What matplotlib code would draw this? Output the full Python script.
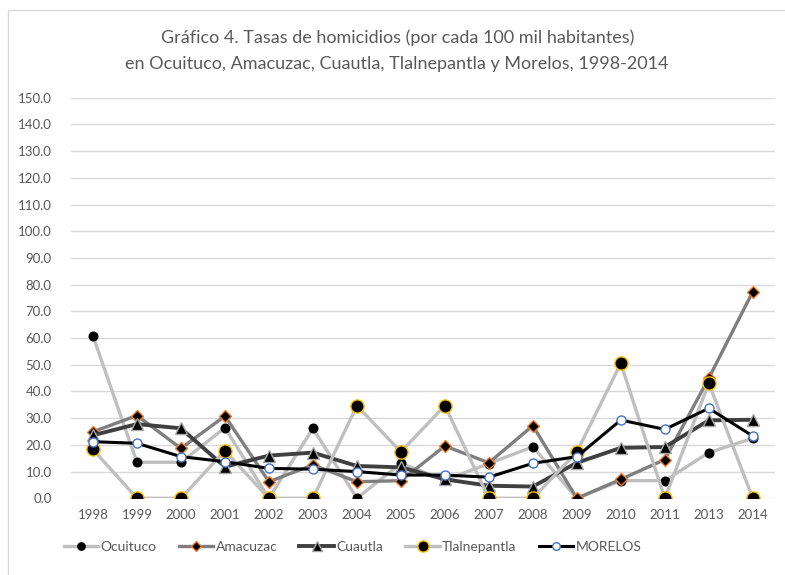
import matplotlib.pyplot as plt
from matplotlib.patches import Rectangle

# datos
years = ['1998', '1999', '2000', '2001', '2002', '2003', '2004', '2005',
         '2006', '2007', '2008', '2009', '2010', '2011', '2013', '2014']
ocuituco = [60.8, 13.5, 13.5, 26.4, 0.0, 26.2, 0.0, 13.1,
            6.8, 13.0, 19.3, 0.0, 6.6, 6.6, 17.1, 22.5]
amacuzac = [24.9, 31.0, 18.7, 30.8, 6.2, 12.5, 6.2, 6.6,
            19.6, 13.3, 27.2, 0.0, 7.1, 14.5, 45.0, 77.4]
cuautla = [23.6, 27.8, 26.2, 11.8, 16.0, 17.1, 12.1, 11.6,
           7.1, 4.7, 4.4, 13.3, 18.9, 19.2, 29.2, 29.4]
tlalnepantla = [18.3, 0.0, 0.0, 17.8, 0.0, 0.0, 34.7, 17.4,
                34.7, 0.0, 0.0, 17.4, 50.5, 0.0, 43.1, 0.0]
morelos = [21.2, 20.6, 15.6, 13.7, 11.2, 10.9, 10.0, 8.7,
           8.7, 7.9, 13.1, 15.6, 29.3, 25.8, 33.7, 23.3]

plt.rcParams['font.family'] = ['Lato', 'DejaVu Sans']

fig = plt.figure(figsize=(7.85, 5.75), dpi=100)
ax = fig.add_axes([0.0904, 0.1334, 0.8966, 0.6966])

x = list(range(len(years)))

ax.plot(x, ocuituco, color='#bfbfbf', lw=2.4, marker='o', ms=6.2,
        mfc='black', mec='black', label='Ocuituco')
ax.plot(x, amacuzac, color='#7f7f7f', lw=2.4, marker='D', ms=6.0,
        mfc='black', mec='#ed7d31', mew=1.0, label='Amacuzac')
ax.plot(x, cuautla, color='#404040', lw=2.8, marker='^', ms=8.5,
        mfc='black', mec='#a6a6a6', mew=1.0, label='Cuautla')
ax.plot(x, tlalnepantla, color='#bfbfbf', lw=2.4, marker='o', ms=9.5,
        mfc='black', mec='#ffc000', mew=1.0, label='Tlalnepantla')
ax.plot(x, morelos, color='black', lw=2.2, marker='o', ms=6.5,
        mfc='white', mec='#4472c4', mew=1.0, label='MORELOS')

ax.set_xlim(-0.5, len(years) - 0.5)
ax.set_ylim(0, 150)
ax.set_yticks(range(0, 151, 10))
ax.set_yticklabels([f'{v:.1f}' for v in range(0, 151, 10)])
ax.set_xticks(x)
ax.set_xticklabels(years)
ax.tick_params(length=0, labelsize=9.5, labelcolor='#595959')
ax.tick_params(axis='y', pad=14)
ax.tick_params(axis='x', pad=8)
ax.grid(axis='y', color='#d9d9d9', lw=1)
ax.set_axisbelow(True)
for s in ax.spines.values():
    s.set_visible(False)

fig.text(0.506, 0.935, 'Gráfico 4. Tasas de homicidios (por cada 100 mil habitantes)',
         ha='center', va='center', fontsize=13, color='#595959')
fig.text(0.506, 0.889, 'en Ocuituco, Amacuzac, Cuautla, Tlalnepantla y Morelos, 1998-2014',
         ha='center', va='center', fontsize=13, color='#595959')

ax.legend(loc='center', bbox_to_anchor=(0.449, 0.0483), bbox_transform=fig.transFigure,
          ncol=5, frameon=False, fontsize=10, labelcolor='#595959',
          handlelength=2.5, handletextpad=0.15, columnspacing=1.6,
          markerscale=0.85)

# marco del gráfico
fig.patches.append(Rectangle((8 / 785, -0.1), 1.2, 1 - 10 / 575 + 0.1,
                             transform=fig.transFigure, fill=False,
                             edgecolor='#d9d9d9', lw=1))

plt.savefig('out.png', dpi=100)
